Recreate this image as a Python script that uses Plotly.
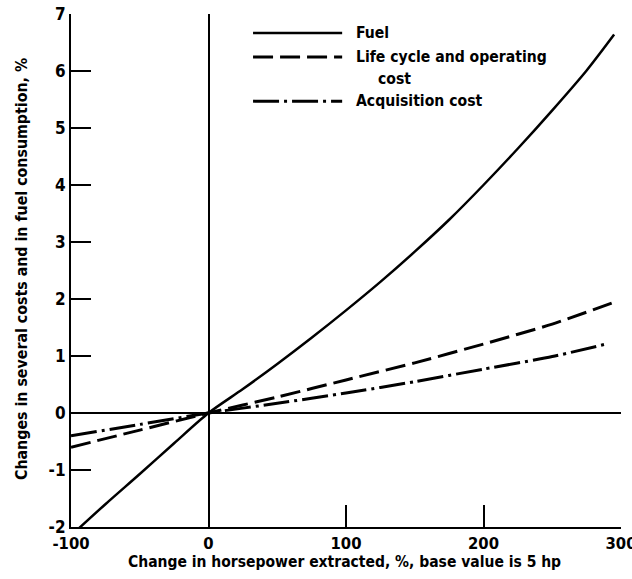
import plotly.graph_objects as go

# ---- data ----
fuel_x = [-100, -75, -50, -25, 0, 25, 50, 75, 100, 125, 150, 175, 200, 225, 250, 275, 295]
fuel_y = [-2.15, -1.6, -1.07, -0.53, 0.0, 0.42, 0.86, 1.32, 1.80, 2.30, 2.83, 3.39,
          4.00, 4.64, 5.31, 6.01, 6.64]

life_x = [-100, -50, 0, 50, 100, 150, 200, 250, 298]
life_y = [-0.6, -0.3, 0.0, 0.28, 0.58, 0.88, 1.21, 1.56, 1.97]

acq_x = [-100, -50, 0, 50, 100, 150, 200, 250, 291]
acq_y = [-0.4, -0.2, 0.0, 0.17, 0.35, 0.55, 0.77, 0.99, 1.22]

series_names = ["Fuel", "Life cycle and operating", "cost", "Acquisition cost"]
x_title = "Change in horsepower extracted, %, base value is 5 hp"
y_title = "Changes in several costs and in fuel consumption, %"
x_ticks = [-100, 0, 100, 200, 300]
y_ticks = [-2, -1, 0, 1, 2, 3, 4, 5, 6, 7]

FONT = "DejaVu Sans Condensed, Liberation Sans Narrow, sans-serif"
DASH = "20px,7px"
DASHDOT = "26px,5px,3px,5px"

fig = go.Figure()
fig.add_trace(go.Scatter(x=fuel_x, y=fuel_y, mode="lines", name=series_names[0],
                         line=dict(color="black", width=2.5, shape="spline", smoothing=0.8)))
fig.add_trace(go.Scatter(x=life_x, y=life_y, mode="lines", name=series_names[1],
                         line=dict(color="black", width=3, dash=DASH, shape="spline", smoothing=0.6)))
fig.add_trace(go.Scatter(x=acq_x, y=acq_y, mode="lines", name=series_names[3],
                         line=dict(color="black", width=3, dash=DASHDOT, shape="spline", smoothing=0.6)))

# ---- hand-drawn style legend ----
leg_x0, leg_x1 = 0.331, 0.493
leg_rows = [(0.963, "solid", 2.5), (0.916, DASH, 3), (0.830, DASHDOT, 3)]
for (yy, dsh, w) in leg_rows:
    fig.add_shape(type="line", xref="paper", yref="paper", x0=leg_x0, x1=leg_x1,
                  y0=yy, y1=yy, line=dict(color="black", width=w, dash=dsh))
txt_font = dict(family=FONT, size=15.6, color="black", weight="bold")
for (xx, yy, t) in [(0.514, 0.963, series_names[0]), (0.514, 0.916, series_names[1]),
                    (0.554, 0.873, series_names[2]), (0.514, 0.830, series_names[3])]:
    fig.add_annotation(xref="paper", yref="paper", x=xx, y=yy, text=t,
                       showarrow=False, xanchor="left", yanchor="middle", font=txt_font)

# ---- axis titles ----
fig.add_annotation(xref="paper", yref="paper", x=0.498, y=-0.068, text=x_title,
                   showarrow=False, xanchor="center", yanchor="middle",
                   font=dict(family=FONT, size=15.5, color="black", weight="bold"))
fig.add_annotation(xref="paper", yref="paper", x=-0.089, y=0.503, text=y_title,
                   showarrow=False, xanchor="center", yanchor="middle", textangle=-90,
                   font=dict(family=FONT, size=15.8, color="black", weight="bold"))

fig.update_layout(
    width=632, height=579,
    margin=dict(l=71, r=11, t=14, b=52, autoexpand=False),
    plot_bgcolor="white", paper_bgcolor="white",
    showlegend=False,
    font=dict(family=FONT, color="black", weight="bold"),
)
fig.update_xaxes(
    range=[-100, 300], tickvals=x_ticks, ticktext=[str(v) for v in x_ticks],
    showline=True, linecolor="black", linewidth=2, automargin=False,
    ticks="inside", ticklen=22, tickwidth=2, tickcolor="black",
    showgrid=False, zeroline=True, zerolinecolor="black", zerolinewidth=1.5,
    tickfont=dict(family=FONT, size=16.5, weight="bold"), ticklabeloverflow="allow",
)
fig.update_yaxes(
    range=[-2, 7], tickvals=y_ticks, ticktext=[str(v) for v in y_ticks],
    showline=True, linecolor="black", linewidth=2, automargin=False,
    ticks="inside", ticklen=20, tickwidth=2, tickcolor="black",
    showgrid=False, zeroline=True, zerolinecolor="black", zerolinewidth=1.5,
    tickfont=dict(family=FONT, size=17, weight="bold"), ticklabeloverflow="allow",
)

fig.write_html("out.html", config={"displayModeBar": False},
               post_script="document.body.style.margin='0';")
